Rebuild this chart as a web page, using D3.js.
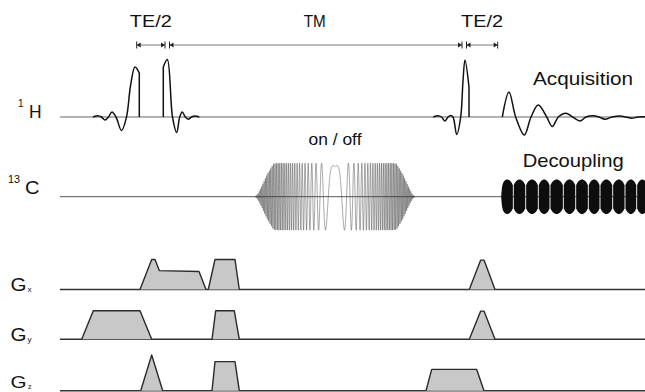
<!DOCTYPE html>
<html><head><meta charset="utf-8">
<script src="https://cdn.jsdelivr.net/npm/d3@7"></script>
<style>html,body{margin:0;padding:0;background:#fff}svg{display:block}text{font-family:"Liberation Sans",Arial,sans-serif;fill:#111}</style>
</head><body>
<script>
// ---- Data (time in ms-like units, amplitudes normalised) ----
const timeDomain = [0, 117];
// 1H RF pulses: [time, amplitude]
const hPulse1 = [[6.6,0],[7.6,0.025],[8.3,0],[9.0,-0.06],[9.7,0],[10.4,0.1],[11.2,0],[12.3,-0.27],[13.3,0],[14.1,0.62],[15.0,1.0],[15.86,0.88]];
const hPulse2 = [[20.66,1.0],[21.46,1.15],[22.5,0],[23.34,-0.31],[23.94,0],[24.46,0.1],[25.06,0],[25.66,-0.045],[26.3,0],[27.0,0.02],[27.86,0]];
const hPulse3 = [[74.66,0],[75.6,0.025],[76.3,0],[77.0,-0.08],[77.6,0],[78.1,0.03],[78.6,0],[79.34,-0.35],[80.14,0],[80.6,0.72],[81.0,1.14],[81.8,0.6]];
const echo = [[88.46,0],[89.8,0.5],[91.14,0],[92.86,-0.36],[94.2,0],[95.66,0.24],[97.34,0],[98.46,-0.19],[99.66,0],[101.14,0.075],[102.54,0],[104.0,-0.08],[105.2,0],[106.66,0.025],[107.8,0],[109.0,-0.045],[110.4,0],[112.0,0.02],[113.2,0],[114.34,-0.025],[115.6,0],[117,0.005]];
// 13C inversion pulse envelope: [time, amplitude]
const cEnvelope = [[39,0],[39.6,0.06],[40.4,0.22],[41.4,0.44],[42.7,0.66],[43.5,0.67],[54.0,0.67],[55.0,0.6],[56.0,0.67],[66.5,0.67],[67.3,0.66],[68.6,0.44],[69.6,0.22],[70.4,0.06],[71,0]];
const cCentre = 55, cChirp = 0.875;
// 13C decoupling block boundaries
const decBlocks = [88.14,90.66,93.14,95.66,98.0,100.66,103.14,105.66,108.0,110.54,113.0,115.34,117.6];
const blockEnv = [[0,0.235],[0.2,0.31],[0.5,0.345],[0.8,0.31],[1,0.235]];
const firstBlockEnv = [[0,0],[0.08,0.2],[0.25,0.31],[0.5,0.345],[0.8,0.31],[1,0.235]];
// Gradients: [time, amplitude]
const gx = [
  [[16.0,0],[18.34,1.0],[19.0,1.0],[19.86,0.63],[27.8,0.6],[29.2,0]],
  [[29.66,0],[31.0,1.0],[35.0,1.0],[35.86,0]],
  [[81.86,0],[84.14,0.98],[84.8,0.98],[87.0,0]]
];
const gy = [
  [[4.34,0],[6.66,0.95],[16.0,0.95],[18.34,0]],
  [[30.4,0],[31.14,0.95],[34.86,0.95],[35.86,0]],
  [[81.86,0],[84.14,0.94],[84.8,0.94],[87.0,0]]
];
const gz = [
  [[16.14,0],[18.34,1.19],[20.54,0]],
  [[30.4,0],[31.0,0.97],[35.0,0.97],[35.86,0]],
  [[73.2,0],[74.34,0.71],[83.34,0.71],[84.8,0]]
];
// Timing intervals
const intervals = [
  {label:"TE/2", from:15.34, to:21.0},
  {label:"TM", from:21.9, to:80.4},
  {label:"TE/2", from:81.3, to:87.54}
];

// ---- Drawing ----
const W = 645, H = 392;
const svg = d3.select("body").append("svg").attr("width", W).attr("height", H);
const x = d3.scaleLinear().domain(timeDomain).range([60, 645]);
const rf = base => d3.scaleLinear().domain([-1, 1]).range([base + 50, base - 50]);
const gr = base => d3.scaleLinear().domain([0, 1]).range([base, base - 30]);

const hY = rf(117), cY = rf(196.7);
const gxY = gr(289.5), gyY = gr(339.3), gzY = gr(390.7);

// Interval markers
const iy = 45;
intervals.forEach(iv => {
  const a = x(iv.from), b = x(iv.to);
  svg.append("line").attr("x1", a).attr("x2", b).attr("y1", iy).attr("y2", iy)
    .attr("stroke", "#555").attr("stroke-width", 0.8);
  [[a, 1], [b, -1]].forEach(([px, dir]) => {
    svg.append("line").attr("x1", px).attr("x2", px).attr("y1", iy - 3.5).attr("y2", iy + 3.5)
      .attr("stroke", "#222").attr("stroke-width", 1);
    svg.append("path").attr("d", `M${px},${iy}L${px + dir * 4},${iy - 2.6}L${px + dir * 4},${iy + 2.6}Z`)
      .attr("fill", "#222");
  });
  const isTM = iv.label === "TM";
  svg.append("text").attr("x", (a + b) / 2 + (isTM ? -1 : 0)).attr("y", 27.3)
    .attr("text-anchor", "middle").attr("font-size", 17)
    .attr("textLength", isTM ? 22 : 42).attr("lengthAdjust", "spacingAndGlyphs")
    .text(iv.label);
});

// 1H channel
svg.append("line").attr("x1", x(0)).attr("x2", x(117)).attr("y1", hY(0)).attr("y2", hY(0))
  .attr("stroke", "#666").attr("stroke-width", 1);
const smooth = (ys) => d3.line().x(d => x(d[0])).y(d => ys(d[1])).curve(d3.curveCatmullRom.alpha(0.5));
function drawPulse(pts, ys, cut) {
  let d = smooth(ys)(pts);
  if (cut === "end") { const l = pts[pts.length - 1]; d += `L${x(l[0])},${ys(0)}`; }
  if (cut === "start") { const f = pts[0]; d = `M${x(f[0])},${ys(0)}L` + d.slice(1); }
  svg.append("path").attr("d", d).attr("fill", "none").attr("stroke", "#111")
    .attr("stroke-width", 1.5).attr("stroke-linejoin", "round");
}
drawPulse(hPulse1, hY, "end");
drawPulse(hPulse2, hY, "start");
drawPulse(hPulse3, hY, "end");
drawPulse(echo, hY, null);

// 13C channel
svg.append("line").attr("x1", x(0)).attr("x2", x(117)).attr("y1", cY(0)).attr("y2", cY(0))
  .attr("stroke", "#555").attr("stroke-width", 1);
const env = d3.scaleLinear().domain(cEnvelope.map(d => d[0])).range(cEnvelope.map(d => d[1])).clamp(true);
const ts = d3.range(cEnvelope[0][0], cEnvelope[cEnvelope.length - 1][0], 0.01);
const chirpPts = ts.map(t => [t, env(t) * Math.cos(cChirp * (t - cCentre) * (t - cCentre))]);
svg.append("path").attr("d", d3.line().x(d => x(d[0])).y(d => cY(d[1]))(chirpPts))
  .attr("fill", "none").attr("stroke", "#3a3a3a").attr("stroke-width", 0.45);

// Decoupling blocks
const area = d3.area().curve(d3.curveMonotoneX);
for (let i = 0; i < decBlocks.length - 1; i++) {
  const t0 = decBlocks[i], t1 = decBlocks[i + 1];
  const e = i === 0 ? firstBlockEnv : blockEnv;
  const x0 = x(t0) + 0.45, x1 = x(t1) - 0.45;
  const pts = e.map(([f, a]) => [x0 + f * (x1 - x0), cY(a), cY(-a)]);
  svg.append("path").attr("d", area.x(d => d[0]).y0(d => d[2]).y1(d => d[1])(pts))
    .attr("fill", "#0d0d0d");
}

// Gradients
function drawGrad(shapes, ys) {
  svg.append("line").attr("x1", x(0)).attr("x2", x(117)).attr("y1", ys(0)).attr("y2", ys(0))
    .attr("stroke", "#333").attr("stroke-width", 1.6);
  const ln = d3.line().x(d => x(d[0])).y(d => ys(d[1]));
  shapes.forEach(s => {
    svg.append("path").attr("d", ln(s)).attr("fill", "#c8c8c8")
      .attr("stroke", "#2a2a2a").attr("stroke-width", 1.4).attr("stroke-linejoin", "round");
  });
}
drawGrad(gx, gxY);
drawGrad(gy, gyY);
drawGrad(gz, gzY);

// Labels
function label(px, py, txt, size, len) {
  const t = svg.append("text").attr("x", px).attr("y", py).attr("font-size", size).text(txt);
  if (len) t.attr("textLength", len).attr("lengthAdjust", "spacingAndGlyphs");
  return t;
}
label(18, 106.7, "1", 10);
label(29, 117.5, "H", 18, 12.6);
label(8, 183.3, "13", 11, 12);
label(25, 193.6, "C", 19, 14.5);
label(10.5, 291, "G", 18, 16);
label(27.5, 292, "x", 8);
label(10.5, 340.5, "G", 18, 16);
label(27.5, 342, "y", 8);
label(10.5, 387.5, "G", 17, 16);
label(28, 389, "z", 7);
label(533, 84.5, "Acquisition", 19, 100);
label(522.7, 166.7, "Decoupling", 19, 101);
svg.append("text").attr("x", 335).attr("y", 145).attr("text-anchor", "middle")
  .attr("font-size", 16.5).attr("textLength", 53).attr("lengthAdjust", "spacingAndGlyphs").text("on / off");
</script>
</body></html>
